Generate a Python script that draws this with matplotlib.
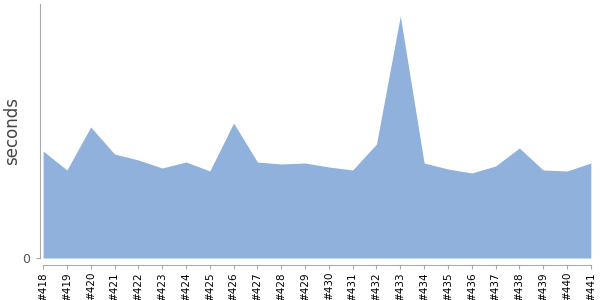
import matplotlib
matplotlib.use("Agg")
import matplotlib.pyplot as plt

builds = list(range(418, 442))
labels = ["#%d" % b for b in builds]
seconds = [10.7, 8.8, 13.1, 10.4, 9.8, 9.0, 9.6, 8.7, 13.5, 9.6, 9.4, 9.5,
           9.1, 8.8, 11.4, 24.2, 9.5, 8.9, 8.5, 9.2, 11.0, 8.8, 8.7, 9.5]

fig = plt.figure(figsize=(6, 3), dpi=100)
ax = fig.add_axes([40 / 600, 42 / 300, 552 / 600, 254 / 300])

# spine position first: it resets the ticks
for s in ["top", "right"]:
    ax.spines[s].set_visible(False)
ax.spines["left"].set_color("#aaaaaa")
ax.spines["bottom"].set_color("#aaaaaa")
ax.spines["bottom"].set_position(("outward", 5))

ax.fill_between(builds, seconds, 0, color="#8fb1db", linewidth=0)

ax.set_xlim(417.87, 441.05)
ax.set_ylim(0, 25.4)
ax.spines["bottom"].set_bounds(418, 441)
ax.set_xticks(builds)
ax.set_xticklabels(labels, rotation=90, fontsize=7.5, color="black")
ax.set_yticks([0])
ax.set_yticklabels(["0"], fontsize=9, color="#555555")
ax.set_ylabel("seconds", fontsize=12, color="#444444")
ax.yaxis.set_label_coords(-0.035, 0.5)
ax.tick_params(axis="x", color="#aaaaaa", length=3, pad=2)
ax.tick_params(axis="y", color="#aaaaaa", length=3, pad=4)

fig.savefig("out.png")
